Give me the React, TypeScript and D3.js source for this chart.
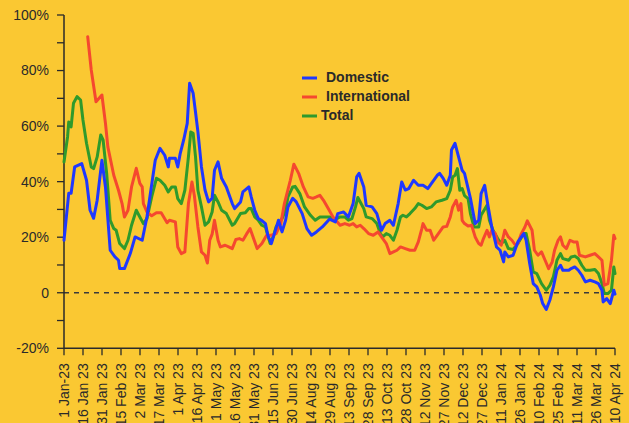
import React from "react";
import * as d3 from "d3";

// position along the date axis: 0 = 1 Jan 23, 465 = 10 Apr 24
const domesticPos = [0, 4, 6, 9, 15, 19, 22, 25, 28, 32, 35, 39, 43, 46, 47, 51, 56, 60, 66, 70, 77, 81, 85, 88, 89, 94, 96, 98, 101, 104, 106, 109, 111, 113, 116, 119, 122, 125, 127, 130, 133, 137, 142, 144, 149, 151, 156, 158, 161, 164, 167, 170, 172, 175, 178, 181, 184, 187, 189, 193, 196, 201, 205, 209, 213, 218, 224, 229, 231, 236, 240, 244, 247, 249, 253, 255, 260, 264, 268, 271, 275, 278, 282, 285, 288, 291, 295, 299, 303, 307, 310, 315, 317, 320, 323, 326, 327, 330, 333, 336, 338, 343, 347, 350, 352, 355, 358, 361, 365, 368, 371, 372, 375, 379, 383, 388, 390, 393, 396, 399, 402, 404, 407, 410, 413, 416, 419, 421, 426, 428, 431, 434, 437, 440, 444, 448, 451, 454, 455, 458, 461, 464, 465];
const domesticValues = [18.9, 35.8, 35.8, 45.3, 46.5, 40.5, 29.7, 26.8, 33.3, 47.7, 38, 15.3, 12.9, 11.7, 8.7, 8.7, 14.2, 20.1, 18.9, 27.3, 47.7, 52, 49.5, 45.3, 48.4, 48.4, 45.3, 50, 55, 61, 75.4, 71.8, 65, 58, 45.3, 37, 32.7, 34, 44.1, 47.1, 41.2, 38.1, 32.1, 30.3, 32.7, 36.3, 38.1, 34.5, 29.7, 26.7, 26, 24.9, 20.7, 17.7, 21.9, 26.1, 21.9, 26.1, 30.9, 34, 32.7, 28.5, 23.1, 20.7, 21.9, 23.7, 26.5, 25.5, 28.5, 29.1, 27.3, 32.1, 41.7, 43, 38.1, 31.5, 30.9, 28.5, 22.5, 24.9, 26.1, 24.3, 32.1, 39.9, 37, 37.5, 40.5, 38.7, 38.7, 37.5, 39.3, 42.3, 43, 41.2, 38.7, 42.3, 51.4, 53.8, 48.9, 44.1, 43, 34, 24.9, 26.1, 35.7, 38.7, 30.9, 23.7, 16.5, 15.3, 11.1, 14.7, 12.9, 13.5, 18.3, 21.3, 18.9, 10.5, 3.3, 2.1, -0.9, -3.9, -6, -2.7, 2.1, 8.1, 9.9, 8.1, 8.1, 8.7, 9.3, 8.1, 6.3, 3.9, 4.5, 3.9, 3.3, 0.9, -3.3, -2.1, -3.9, 0.9, -0.5];

const internationalPos = [20, 23, 27, 32, 35, 37, 42, 46, 49, 51, 54, 57, 61, 64, 66, 67, 70, 74, 78, 82, 87, 89, 94, 96, 99, 102, 105, 108, 110, 113, 116, 119, 121, 123, 125, 127, 130, 132, 136, 139, 142, 145, 148, 151, 154, 157, 160, 163, 167, 171, 175, 179, 183, 186, 191, 194, 198, 202, 206, 210, 213, 216, 219, 223, 227, 233, 237, 241, 244, 247, 250, 253, 257, 261, 265, 269, 272, 275, 278, 281, 284, 288, 292, 296, 299, 302, 303, 306, 309, 312, 314, 317, 320, 323, 326, 328, 331, 333, 335, 336, 338, 341, 344, 347, 350, 352, 354, 357, 359, 361, 364, 366, 369, 372, 375, 378, 381, 383, 386, 389, 391, 395, 397, 400, 403, 406, 409, 412, 414, 417, 419, 421, 424, 427, 430, 433, 435, 440, 444, 448, 451, 454, 456, 459, 462, 464, 465];
const internationalValues = [92.2, 80.2, 68.8, 71.2, 61, 52.5, 42.3, 36.9, 32.1, 27.3, 29.7, 38.1, 44.8, 39.4, 38.1, 32.1, 29.1, 27.7, 28.8, 28.8, 25.2, 26.1, 25.5, 16.5, 14.1, 14.7, 32.1, 39.9, 35, 23.7, 14.7, 13.5, 10.7, 18.9, 21.1, 26.1, 18.9, 16.5, 17.1, 16.5, 15.9, 19.2, 19.5, 18.9, 21.1, 23.1, 19.5, 15.9, 17.7, 20.7, 20.7, 21.3, 24.9, 32.1, 40.5, 46.3, 43, 38.1, 34.5, 34, 34.5, 35.1, 33.3, 30.3, 27.3, 24.3, 24.9, 24.3, 24.9, 23.7, 24.3, 23.1, 21.3, 20.7, 21.9, 19.5, 17.7, 14.1, 14.7, 15.3, 16.5, 15.9, 15.3, 15.3, 18.3, 23.1, 24.9, 22.5, 22.5, 18.9, 20.1, 21.9, 23.7, 23.9, 27.3, 30.9, 33.3, 29.7, 32.1, 26.1, 24.9, 24, 24.3, 20.1, 17.7, 17.1, 19.5, 22.5, 20.1, 22.5, 21.3, 18.3, 17.1, 22.5, 20.1, 18.9, 17.1, 17.7, 21.3, 23.7, 25.9, 22.5, 15.3, 13.5, 14.7, 11.7, 8.7, 11.1, 15.3, 18.9, 20.1, 17.1, 15.9, 18.9, 18.3, 18.3, 13.5, 12.9, 13.5, 14.1, 12.9, 11.7, 2.7, 3.3, 11.7, 20.7, 19.5];

const totalPos = [0, 3, 4, 6, 8, 11, 14, 16, 19, 23, 25, 28, 31, 33, 36, 39, 42, 44, 47, 51, 54, 57, 61, 64, 67, 70, 74, 78, 81, 85, 88, 91, 94, 96, 99, 102, 105, 107, 109, 111, 113, 116, 119, 122, 125, 127, 130, 133, 137, 142, 144, 149, 153, 156, 158, 161, 164, 167, 170, 172, 174, 177, 179, 184, 187, 189, 193, 195, 199, 203, 208, 212, 216, 220, 224, 229, 233, 237, 240, 243, 246, 248, 250, 253, 255, 260, 264, 267, 269, 272, 275, 278, 281, 284, 286, 289, 292, 296, 299, 302, 306, 310, 314, 319, 323, 326, 328, 330, 332, 334, 336, 338, 341, 343, 346, 350, 352, 357, 359, 362, 366, 369, 372, 375, 379, 383, 388, 390, 393, 396, 399, 403, 407, 410, 413, 416, 419, 421, 426, 428, 431, 434, 437, 440, 444, 448, 451, 454, 456, 459, 462, 464, 465];
const totalValues = [47.1, 56.1, 61.5, 59.7, 68.2, 70.6, 69.4, 62.2, 53.8, 45.3, 44.7, 48.9, 56.8, 55, 43, 26.1, 23.1, 22.5, 17.7, 15.9, 18.9, 24.3, 29.7, 27.3, 24.9, 26.7, 34.5, 41.2, 40.5, 38.7, 36.3, 38.1, 38.1, 33.9, 32.1, 36.9, 48.9, 57.9, 57.4, 48.9, 36.9, 30.9, 24.3, 25.5, 29.1, 35.1, 32.7, 29.7, 28.5, 24.3, 24.9, 28.5, 28.8, 30.3, 30.3, 27.3, 26.1, 24.3, 23.7, 20.7, 17.7, 20.7, 23.7, 26.7, 29.7, 34.5, 38.1, 38.3, 35.7, 30.9, 27.9, 26.1, 27.3, 27.3, 27.3, 26.4, 27.3, 27.3, 26.1, 26.7, 30.9, 34.3, 32.7, 30.3, 27.3, 26.7, 24.9, 21.3, 20.1, 21.3, 20.7, 18.9, 22.5, 27.3, 27.9, 27.3, 28.5, 30.3, 32.1, 31.5, 30.3, 30.9, 32.7, 33.3, 33.9, 36.9, 41.7, 42.3, 44.7, 36.9, 37.5, 35, 33.9, 28.5, 23.7, 23.7, 27.9, 31.5, 26.1, 22.5, 19.5, 17.7, 18.9, 15.9, 15.6, 17.7, 21.3, 21.3, 15.3, 7.5, 6.9, 3.3, 0.9, 2.7, 5.7, 11.7, 14.1, 12.3, 11.7, 12.9, 13.2, 12.3, 9.9, 8.1, 8.1, 8.4, 6.9, 3.3, -0.3, -0.3, 0.9, 9.3, 6.9];

const xTickLabels = [
  "1 Jan-23", "16 Jan 23", "31 Jan 23", "15 Feb 23", "2 Mar 23", "17 Mar 23", "1 Apr 23", "16 Apr 23",
  "1 May 23", "16 May 23", "31 May 23", "15 Jun 23", "30 Jun 23", "14 Aug 23", "29 Aug 23", "13 Sep 23",
  "28 Sep 23", "13 Oct 23", "28 Oct 23", "12 Nov 23", "27 Nov 23", "12 Dec 23", "27 Dec 23", "11 Jan 24",
  "26 Jan 24", "10 Feb 24", "25 Feb 24", "11 Mar 24", "26 Mar 24", "10 Apr 24",
];
const yTicks = [-20, -10, 0, 10, 20, 30, 40, 50, 60, 70, 80, 90, 100];
const yTickLabels = ["-20%", "", "0", "", "20%", "", "40%", "", "60%", "", "80%", "", "100%"];

const seriesNames = ["Domestic", "International", "Total"];
const seriesColors = ["#1f38ff", "#f5482f", "#2f9a2c"];

const W = 629;
const H = 423;
const BG = "#fac832";
const INK = "#2a2a2a";
const AXIS_END = 465;

const App = () => {
  const x = d3.scaleLinear().domain([0, AXIS_END]).range([64, 615]);
  const y = d3.scaleLinear().domain([-20, 100]).range([348.3, 15]);

  const line = d3
    .line<[number, number]>()
    .x((d) => x(d[0]))
    .y((d) => y(d[1]));

  const zip = (pos: number[], vals: number[]) =>
    pos.map((p, i) => [p, vals[i]] as [number, number]);

  const series = [
    zip(domesticPos, domesticValues),
    zip(internationalPos, internationalValues),
    zip(totalPos, totalValues),
  ];
  const drawOrder = [2, 1, 0];

  // labels sit evenly along the axis
  const xTicks = xTickLabels.map((_, i) => (i * AXIS_END) / (xTickLabels.length - 1));
  const bottom = y(-20);

  return (
    <div style={{ position: "absolute", left: 0, top: 0, width: W, height: H, background: BG }}>
      <svg width={W} height={H} style={{ display: "block", fontFamily: "'Liberation Sans', Arial, sans-serif" }}>
        <rect x={0} y={0} width={W} height={H} fill={BG} />

        {/* zero line */}
        <line x1={x(0)} x2={x(AXIS_END)} y1={y(0)} y2={y(0)} stroke="#3a3a3a" strokeWidth={1.5} strokeDasharray="5,5" />

        {/* y axis */}
        <line x1={x(0)} x2={x(0)} y1={y(100)} y2={bottom} stroke={INK} strokeWidth={1.5} />
        {yTicks.map((t, i) => (
          <g key={t}>
            <line x1={x(0) - 7} x2={x(0)} y1={y(t)} y2={y(t)} stroke={INK} strokeWidth={1.3} />
            {yTickLabels[i] && (
              <text x={49} y={y(t)} dy="0.35em" textAnchor="end" fontSize={14} fill={INK}>
                {yTickLabels[i]}
              </text>
            )}
          </g>
        ))}

        {/* x axis */}
        <line x1={x(0)} x2={x(AXIS_END)} y1={bottom} y2={bottom} stroke={INK} strokeWidth={1.5} />
        {xTicks.map((t, i) => (
          <g key={i}>
            <line x1={x(t)} x2={x(t)} y1={bottom} y2={bottom + 7} stroke={INK} strokeWidth={1.3} />
            <text
              transform={`translate(${x(t)}, ${bottom + 15}) rotate(-90)`}
              dy="0.35em"
              textAnchor="end"
              fontSize={14}
              fill={INK}
            >
              {xTickLabels[i]}
            </text>
          </g>
        ))}

        {/* lines */}
        {drawOrder.map((k) => (
          <path
            key={seriesNames[k]}
            d={line(series[k]) || ""}
            fill="none"
            stroke={seriesColors[k]}
            strokeWidth={3}
            strokeLinejoin="round"
            strokeLinecap="round"
          />
        ))}

        {/* legend */}
        {seriesNames.map((name, i) => (
          <g key={name} transform={`translate(302, ${78 + i * 19})`}>
            <line x1={0} x2={15} y1={0} y2={0} stroke={seriesColors[i]} strokeWidth={3} />
            <text x={i === 2 ? 19 : 24} y={-1} dy="0.35em" fontSize={14} fontWeight="bold" fill={INK}>
              {name}
            </text>
          </g>
        ))}
      </svg>
    </div>
  );
};

export default App;
